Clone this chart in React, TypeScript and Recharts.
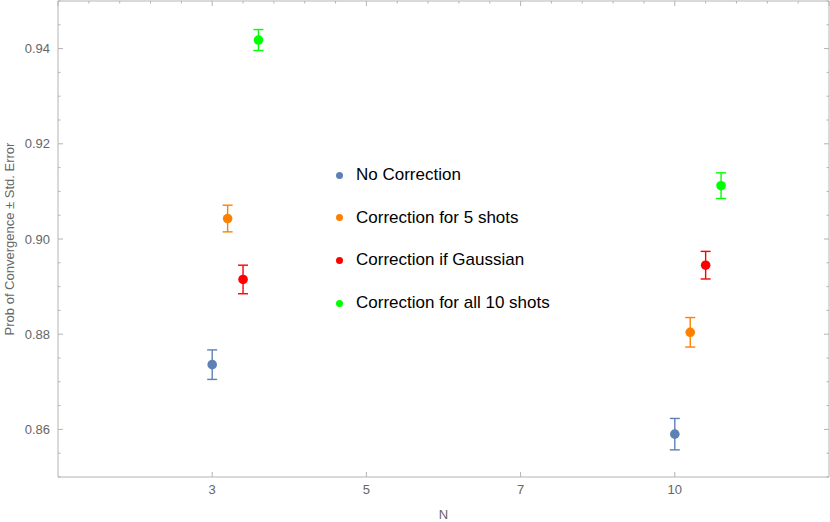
import {
  ErrorBar,
  Legend,
  Scatter,
  ScatterChart,
  XAxis,
  YAxis,
} from "recharts";

// N values shown on the bottom axis (plotted at positions 1..4)
const nLabels = ["3", "5", "7", "10"];
const nPositions = [1, 2, 3, 4];

const seriesNames = [
  "No Correction",
  "Correction for 5 shots",
  "Correction if Gaussian",
  "Correction for all 10 shots",
];
const seriesColors = ["#5E81B5", "#FF8000", "#FF0000", "#00FF00"];

// probability of convergence, measured at N = 3 and N = 10
const measuredAt = [1, 4];
const noCorrection = [0.8736, 0.859];
const noCorrectionErr = [0.0031, 0.0033];
const correction5 = [0.9043, 0.8804];
const correction5Err = [0.0028, 0.0031];
const correctionGaussian = [0.8915, 0.8945];
const correctionGaussianErr = [0.003, 0.0029];
const correctionAll10 = [0.9418, 0.9112];
const correctionAll10Err = [0.0022, 0.0027];

const seriesValues = [noCorrection, correction5, correctionGaussian, correctionAll10];
const seriesErrors = [noCorrectionErr, correction5Err, correctionGaussianErr, correctionAll10Err];

const SERIES_SHIFT = 0.1;
const FRAME = "#b3b3b3";
const TEXT = "#666666";
const FONT = "'Liberation Sans', Arial, sans-serif";

const yTicks = Array.from({ length: 21 }, (_, i) => +(0.85 + i * 0.005).toFixed(3));
const topTicks = Array.from({ length: 26 }, (_, i) => +(i * 0.2).toFixed(1));

const isMajorY = (v: number) => Math.abs(v * 50 - Math.round(v * 50)) < 1e-6;
const isMajorX = (v: number) => Math.abs(v - Math.round(v)) < 1e-6;

function LeftTick(props: any) {
  const { x, y, payload } = props;
  const major = isMajorY(payload.value);
  return (
    <g>
      <line x1={x} x2={x + (major ? 5 : 2.5)} y1={y} y2={y} stroke={FRAME} />
      {major && (
        <text x={x - 8} y={y} dy="0.36em" textAnchor="end" fill={TEXT} fontSize={13} fontFamily={FONT}>
          {payload.value.toFixed(2)}
        </text>
      )}
    </g>
  );
}

function RightTick(props: any) {
  const { x, y, payload } = props;
  const major = isMajorY(payload.value);
  return <line x1={x} x2={x - (major ? 5 : 2.5)} y1={y} y2={y} stroke={FRAME} />;
}

function TopTick(props: any) {
  const { x, y, payload } = props;
  const major = isMajorX(payload.value);
  return <line x1={x} x2={x} y1={y} y2={y + (major ? 5 : 2.5)} stroke={FRAME} />;
}

function BottomTick(props: any) {
  const { x, y, payload } = props;
  const idx = nPositions.indexOf(payload.value);
  return (
    <g>
      <line x1={x} x2={x} y1={y} y2={y - 5} stroke={FRAME} />
      <text x={x} y={y + 17} textAnchor="middle" fill={TEXT} fontSize={13} fontFamily={FONT}>
        {nLabels[idx]}
      </text>
    </g>
  );
}

function Dot(props: any) {
  const { cx, cy, fill } = props;
  if (cx == null || cy == null) return null;
  return <circle cx={cx} cy={cy} r={4.8} fill={fill} />;
}

function LegendBox() {
  return (
    <div style={{ fontFamily: FONT, fontSize: 17, color: "#000" }}>
      {seriesNames.map((name, i) => (
        <div key={name} style={{ display: "flex", alignItems: "center", height: 42.6 }}>
          <span
            style={{
              display: "inline-block",
              width: 7,
              height: 7,
              borderRadius: "50%",
              background: seriesColors[i],
              marginRight: 13,
            }}
          />
          <span>{name}</span>
        </div>
      ))}
    </div>
  );
}

export default function App() {
  const data = seriesValues.map((vals, s) =>
    vals.map((v, k) => ({
      x: measuredAt[k] + s * SERIES_SHIFT,
      y: v,
      err: seriesErrors[s][k],
    }))
  );

  return (
    <div style={{ position: "absolute", left: 0, top: 0, background: "#fff" }}>
      <ScatterChart width={830} height={522} margin={{ top: 0, right: 0, bottom: 0, left: 0 }}>
        <XAxis
          xAxisId="b"
          type="number"
          dataKey="x"
          domain={[0, 5]}
          ticks={nPositions}
          interval={0}
          height={45}
          axisLine={{ stroke: FRAME }}
          tickLine={false}
          tickSize={0}
          tickMargin={0}
          tick={<BottomTick />}
          label={{
            content: (p: any) => {
              const vb = p.viewBox;
              return (
                <text x={vb.x + vb.width / 2} y={519} textAnchor="middle" fill={TEXT} fontSize={13} fontFamily={FONT}>
                  N
                </text>
              );
            },
          }}
        />
        <XAxis
          xAxisId="t"
          orientation="top"
          type="number"
          dataKey="x"
          domain={[0, 5]}
          ticks={topTicks}
          interval={0}
          height={1}
          axisLine={{ stroke: FRAME }}
          tickLine={false}
          tickSize={0}
          tickMargin={0}
          tick={<TopTick />}
        />
        <YAxis
          yAxisId="l"
          type="number"
          dataKey="y"
          domain={[0.85, 0.95]}
          ticks={yTicks}
          interval={0}
          width={58}
          axisLine={{ stroke: FRAME }}
          tickLine={false}
          tickSize={0}
          tickMargin={0}
          tick={<LeftTick />}
          label={{
            content: (p: any) => {
              const vb = p.viewBox;
              const cy = vb.y + vb.height / 2;
              return (
                <text
                  transform={`translate(14, ${cy}) rotate(-90)`}
                  textAnchor="middle"
                  fill={TEXT}
                  fontSize={13}
                  fontFamily={FONT}
                >
                  Prob of Convergence ± Std. Error
                </text>
              );
            },
          }}
        />
        <YAxis
          yAxisId="r"
          orientation="right"
          type="number"
          dataKey="y"
          domain={[0.85, 0.95]}
          ticks={yTicks}
          interval={0}
          width={1}
          axisLine={{ stroke: FRAME }}
          tickLine={false}
          tickSize={0}
          tickMargin={0}
          tick={<RightTick />}
        />
        {data.map((d, s) => (
          <Scatter
            key={seriesNames[s]}
            name={seriesNames[s]}
            data={d}
            xAxisId="b"
            yAxisId="l"
            fill={seriesColors[s]}
            shape={<Dot />}
            isAnimationActive={false}
          >
            <ErrorBar
              dataKey="err"
              direction="y"
              width={5}
              stroke={seriesColors[s]}
              strokeWidth={1.4}
              isAnimationActive={false}
            />
          </Scatter>
        ))}
        {/* invisible series so the top and right frame axes are drawn */}
        <Scatter
          name="frame"
          data={data[0]}
          xAxisId="t"
          yAxisId="r"
          fill="none"
          shape={() => <g />}
          legendType="none"
          isAnimationActive={false}
        />
        <Legend
          layout="vertical"
          align="center"
          verticalAlign="middle"
          wrapperStyle={{ left: 336, top: 154, width: "auto" }}
          content={<LegendBox />}
        />
      </ScatterChart>
    </div>
  );
}
